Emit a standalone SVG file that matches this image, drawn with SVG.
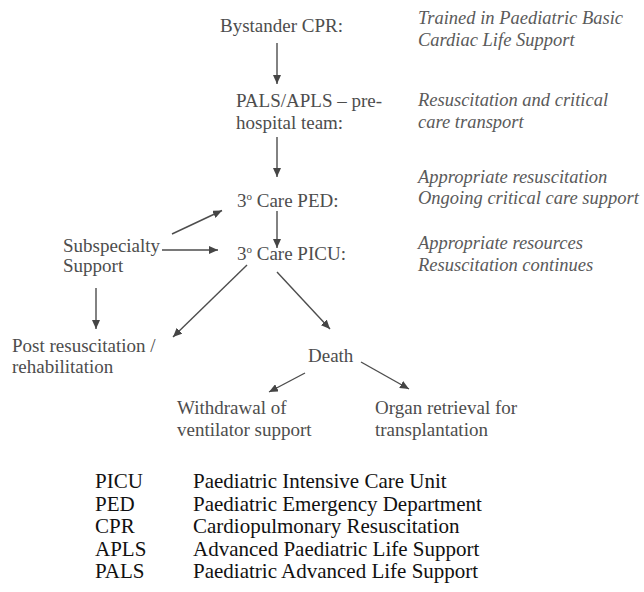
<svg xmlns="http://www.w3.org/2000/svg" width="644" height="592" viewBox="0 0 644 592">
<defs>
<marker id="ah" viewBox="0 0 10 10" refX="10" refY="5" markerWidth="9" markerHeight="8" markerUnits="userSpaceOnUse" orient="auto" preserveAspectRatio="none">
<path d="M0,0 L10,5 L0,10 z" fill="#454545"/>
</marker>
<style>
text{font-family:"Liberation Serif","Times New Roman","DejaVu Serif",serif}
.n{font-size:19px;fill:#4d4d4d}
.i{font-size:18.5px;font-style:italic;fill:#5a5a5a}
.l{font-size:21px;fill:#111}
.s{font-size:11px}
.c{stroke:#4d4d4d;stroke-width:1.4;fill:none;marker-end:url(#ah)}
</style>
</defs>
<rect width="644" height="592" fill="#fff"/>
<g id="bystander"><text class="n" x="220" y="32">Bystander CPR:</text></g>
<g id="note1"><text class="i" x="418" y="24">Trained in Paediatric Basic</text><text class="i" x="418" y="46">Cardiac Life Support</text></g>
<g id="pals"><text class="n" x="236" y="106.5">PALS/APLS – pre-</text><text class="n" x="236" y="128.5">hospital team:</text></g>
<g id="note2"><text class="i" x="418" y="106">Resuscitation and critical</text><text class="i" x="418" y="128">care transport</text></g>
<g id="ped"><text class="n" x="237" y="207">3<tspan class="s" dy="-7">o</tspan><tspan dy="7"> Care PED:</tspan></text></g>
<g id="note3"><text class="i" x="418" y="183">Appropriate resuscitation</text><text class="i" x="418" y="204">Ongoing critical care support</text></g>
<g id="picu"><text class="n" x="237" y="260">3<tspan class="s" dy="-7">o</tspan><tspan dy="7"> Care PICU:</tspan></text></g>
<g id="note4"><text class="i" x="418" y="249">Appropriate resources</text><text class="i" x="418" y="271">Resuscitation continues</text></g>
<g id="subspecialty"><text class="n" x="63" y="252">Subspecialty</text><text class="n" x="63" y="272">Support</text></g>
<g id="post"><text class="n" x="12" y="352">Post resuscitation /</text><text class="n" x="12" y="373">rehabilitation</text></g>
<g id="death"><text class="n" x="308" y="362">Death</text></g>
<g id="withdrawal"><text class="n" x="177" y="414">Withdrawal of</text><text class="n" x="177" y="436">ventilator support</text></g>
<g id="organ"><text class="n" x="375" y="414">Organ retrieval for</text><text class="n" x="375" y="436">transplantation</text></g>
<g id="connectors">
<line class="c" x1="277" y1="43" x2="277" y2="84"/>
<line class="c" x1="277" y1="137" x2="277" y2="177"/>
<line class="c" x1="277" y1="211" x2="277" y2="248"/>
<line class="c" x1="172" y1="234" x2="222" y2="210.5"/>
<line class="c" x1="162" y1="250" x2="218" y2="250"/>
<line class="c" x1="96" y1="288" x2="96" y2="329"/>
<line class="c" x1="247" y1="265" x2="173" y2="337"/>
<line class="c" x1="277" y1="272" x2="330" y2="329"/>
<line class="c" x1="305" y1="373" x2="269" y2="392"/>
<line class="c" x1="361" y1="362" x2="409" y2="389"/>
</g>
<g id="legend">
<text class="l" x="95" y="488">PICU</text><text class="l" x="193" y="488">Paediatric Intensive Care Unit</text>
<text class="l" x="95" y="510.5">PED</text><text class="l" x="193" y="510.5">Paediatric Emergency Department</text>
<text class="l" x="95" y="533">CPR</text><text class="l" x="193" y="533">Cardiopulmonary Resuscitation</text>
<text class="l" x="95" y="555.5">APLS</text><text class="l" x="193" y="555.5">Advanced Paediatric Life Support</text>
<text class="l" x="95" y="578">PALS</text><text class="l" x="193" y="578">Paediatric Advanced Life Support</text>
</g>
</svg>
